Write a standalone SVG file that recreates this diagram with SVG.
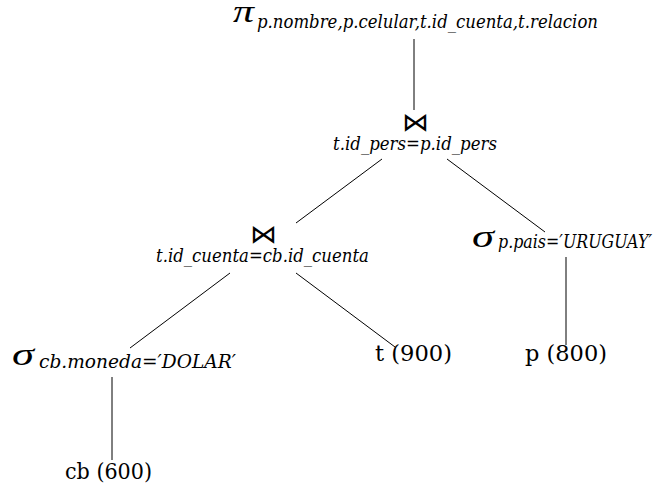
<svg xmlns="http://www.w3.org/2000/svg" width="659" height="489" viewBox="0 0 659 489">
<style>
.bg{fill:#ffffff}
.ln{stroke:#000;stroke-width:1;fill:none}
.gr{font-family:"Liberation Serif",serif;font-style:italic;font-size:32px;fill:#000}
.sub{font-family:"DejaVu Serif",serif;font-style:italic;font-size:18px;fill:#000}
.rel{font-family:"DejaVu Serif",serif;font-size:23px;fill:#000}
.join{font-family:"DejaVu Sans",sans-serif;font-size:26px;fill:#000}
</style>
<rect class="bg" x="0" y="0" width="659" height="489"/>
<g id="connectors">
<line class="ln" x1="414" y1="39" x2="414" y2="110"/>
<line class="ln" x1="382" y1="159" x2="296" y2="223"/>
<line class="ln" x1="447" y1="159" x2="545" y2="232"/>
<line class="ln" x1="230" y1="273" x2="130" y2="348"/>
<line class="ln" x1="296" y1="273" x2="395" y2="347"/>
<line class="ln" x1="566" y1="257" x2="566" y2="345"/>
<line class="ln" x1="112" y1="377" x2="112" y2="460"/>
</g>
<g id="project">
<text class="gr" x="233" y="22" textLength="21" lengthAdjust="spacingAndGlyphs">π</text>
<text class="sub" x="257" y="28" font-size="20" textLength="341" lengthAdjust="spacingAndGlyphs">p.nombre,p.celular,t.id_cuenta,t.relacion</text>
</g>
<g id="join1">
<text class="join" x="402" y="131" textLength="27" lengthAdjust="spacingAndGlyphs">⋈</text>
<text class="sub" x="333" y="150" textLength="164" lengthAdjust="spacingAndGlyphs">t.id_pers=p.id_pers</text>
</g>
<g id="join2">
<text class="join" x="250" y="243" textLength="27" lengthAdjust="spacingAndGlyphs">⋈</text>
<text class="sub" x="156" y="262" textLength="213" lengthAdjust="spacingAndGlyphs">t.id_cuenta=cb.id_cuenta</text>
</g>
<g id="select_p">
<text class="gr" x="472" y="247" textLength="22" lengthAdjust="spacingAndGlyphs">σ</text>
<text class="sub" x="498" y="248" font-size="16" textLength="154" lengthAdjust="spacingAndGlyphs">p.pais=′URUGUAY′</text>
</g>
<g id="select_cb">
<text class="gr" x="12" y="365" textLength="22" lengthAdjust="spacingAndGlyphs">σ</text>
<text class="sub" x="39" y="368" textLength="197" lengthAdjust="spacingAndGlyphs">cb.moneda=′DOLAR′</text>
</g>
<g id="rel_t">
<text class="rel" x="375" y="361" textLength="77" lengthAdjust="spacingAndGlyphs">t (900)</text>
</g>
<g id="rel_p">
<text class="rel" x="525" y="361" textLength="82" lengthAdjust="spacingAndGlyphs">p (800)</text>
</g>
<g id="rel_cb">
<text class="rel" x="65" y="479" textLength="87" lengthAdjust="spacingAndGlyphs">cb (600)</text>
</g>
</svg>
